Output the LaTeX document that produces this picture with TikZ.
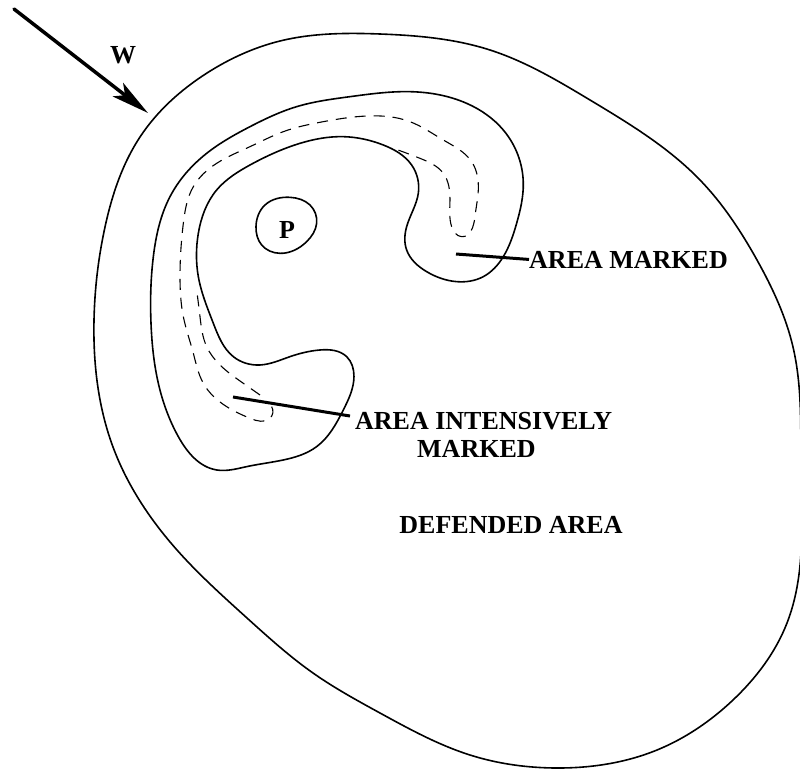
\documentclass[tikz,border=0pt]{standalone}
\usepackage{fontspec}
\usetikzlibrary{arrows.meta,hobby}
\setmainfont{Liberation Serif}
\begin{document}
\begin{tikzpicture}[x=1pt,y=-1pt,use Hobby shortcut,
 outline/.style={draw=black,line width=1.6pt,line join=round},
 dash line/.style={draw=black,line width=1.1pt,dash pattern=on 11pt off 8pt},
 pointer/.style={draw=black,line width=3pt},
 lab/.style={font=\bfseries\fontsize{26}{28}\selectfont,inner sep=0pt,align=left}]
\useasboundingbox (0,0) rectangle (800,769);
\fill[white] (0,0) rectangle (800,769);
% outer
\draw[outline,closed=true] (140,137)..(207,73)..(280,41)..(380,34)..(490,50)..(590,100)..(700,180)..(757,260)..(793,347)..(801,470)..(787,623)..(733,700)..(657,750)..(557,768)..(470,755)..(380,713)..(313,673)..(247,618)..(177,550)..(113,447)..(94,320)..(105,227);
\begin{scope}[shift={(150,90)},x=0.3333pt,y=-0.3333pt]
\draw[outline,closed=true] (200,1140)..(85,1040)..(25,880)..(3,700)..(10,500)..(60,320)..(170,190)..(300,110)..(440,50)..(600,20)..(780,5)..(950,40)..(1060,120)..(1120,280)..(1100,400)..(1060,500)..(1000,560)..(920,575)..(830,545)..(770,480)..(770,410)..(805,310)..(785,225)..(700,165)..(580,140)..(450,160)..(300,225)..(200,300)..(145,430)..(145,560)..(190,700)..(250,800)..(330,825)..(420,800)..(510,780)..(590,800)..(612,860)..(580,960)..(500,1070)..(400,1110)..(290,1130);
\draw[dash line] (330,915)..(280,880)..(210,825)..(170,770)..(150,680)..(140,600);
\draw[dash line] (365,950)..(360,985)..(300,985)..(230,950)..(160,880)..(130,790)..(100,680)..(90,560)..(100,400)..(130,290)..(200,220)..(300,170)..(400,125)..(520,95)..(650,78)..(780,95)..(880,150)..(965,215)..(985,300)..(975,380)..(935,440)..(905,410)..(900,330)..(880,250)..(810,205)..(730,175);
\draw[outline,closed=true] (318,410)..(345,345)..(420,322)..(480,345)..(500,400)..(470,455)..(390,490)..(335,465);
\end{scope}
\node[lab,anchor=base] (p) at (287,238) {P};
\node[lab,anchor=base] (w) at (123,63) {W};
\node[lab,anchor=base west] (am) at (529,268) {AREA MARKED};
\node[lab,anchor=west] (aim) at (355,435) {AREA INTENSIVELY\\\hspace*{62pt}MARKED};
\node[lab,anchor=base] (da) at (511,533) {DEFENDED AREA};
\coordinate (a1) at (456,254);
\coordinate (a2) at (233,397);
\coordinate (a3) at (350,416);
\coordinate (ws) at (14,9);
\coordinate (we) at (148,113);
\draw[pointer] (a1) -- (am.west);
\draw[pointer] (a2) -- (a3);
\draw[line width=3.5pt,line cap=round,-{Stealth[length=38pt,width=17pt,inset=9pt]}] (ws) -- (we);
\end{tikzpicture}
\end{document}
